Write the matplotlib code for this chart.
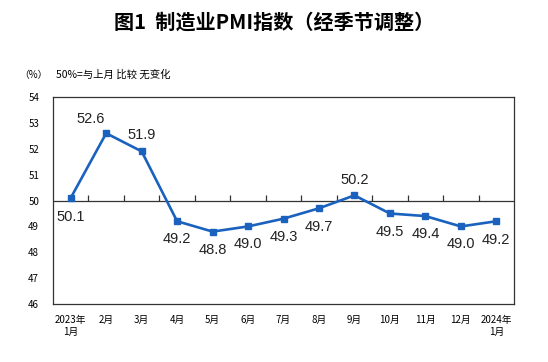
import matplotlib.pyplot as plt
import numpy as np

plt.rcParams['font.family'] = ['Noto Sans CJK SC', 'DejaVu Sans']

months = ["2023年\n1月", "2月", "3月", "4月", "5月", "6月", "7月", "8月",
          "9月", "10月", "11月", "12月", "2024年\n1月"]
pmi = [50.1, 52.6, 51.9, 49.2, 48.8, 49.0, 49.3, 49.7, 50.2, 49.5, 49.4, 49.0, 49.2]
# label offsets in points (dx, dy)
offsets = [(0, -13.5), (-11, 10.5), (0, 11.5), (0, -12.5), (0, -13), (0, -13), (0, -13),
           (0, -13.5), (0, 11), (0, -13), (0, -13), (0, -12.5), (0, -13.5)]

fig = plt.figure(figsize=(5.48, 3.62), dpi=100)
ax = fig.add_axes([0.0967, 0.160, 0.8413, 0.572])

x = np.arange(len(pmi))
ax.plot(x, pmi, color="#1a62bd", lw=1.9, marker="s", ms=5, zorder=3)
for xi, v, (dx, dy) in zip(x, pmi, offsets):
    ax.annotate(f"{v:.1f}", (xi, v), xytext=(dx, dy), textcoords="offset points",
                ha="center", va="center", fontsize=10.5, color="#222222",
                family="Liberation Sans")

ax.set_xlim(-0.5, len(pmi) - 0.5)
ax.set_ylim(46, 54)
ax.set_yticks(range(46, 55))
ax.tick_params(axis="y", direction="in", length=0, labelsize=7, pad=10)
ax.set_xticks(x, months)
ax.tick_params(axis="x", length=0, labelsize=7, pad=8)

# 50 line with tick marks between months
ax.axhline(50, color="#333333", lw=0.9)
ax.vlines(np.arange(0.5, len(pmi) - 1, 1), 50, 50.2, color="#333333", lw=0.9)
for s in ax.spines.values():
    s.set_color("#333333")
    s.set_linewidth(0.9)

fig.text(0.5, 0.938, "图1  制造业PMI指数（经季节调整）", ha="center", va="center",
         fontsize=14.5, fontweight="bold")
fig.text(0.035, 0.793, "（%）", fontsize=7, va="center")
fig.text(0.102, 0.793, "50%=与上月 比较 无变化", fontsize=7.5, va="center")

fig.savefig("out.png", dpi=100)
